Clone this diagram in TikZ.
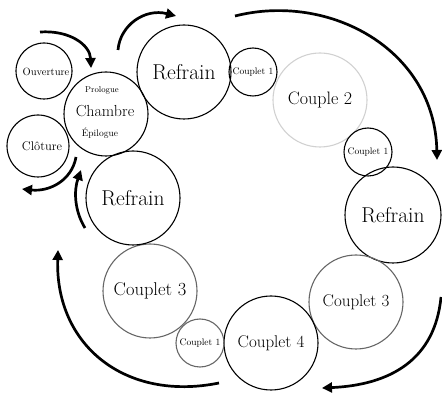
\documentclass[tikz,border=0pt]{standalone}
\usetikzlibrary{arrows.meta}
\begin{document}
\begin{tikzpicture}[x=1pt,y=-1pt,
  ring/.style={circle,draw=black,line width=1.1pt,inner sep=0pt},
  grayring/.style={ring,draw=black!60},
  paleing/.style={ring,draw=black!18},
  flow/.style={line width=2.7pt,-{Triangle[length=10pt,width=10pt]}},
  lbl/.style={inner sep=0pt}]
\useasboundingbox (0,0) rectangle (442,395);
% circles
\node[ring,minimum size=56pt] (ouv) at (44,71) {};
\node[lbl,font=\fontsize{10.5}{12}\selectfont] (ouvt) at (46,72) {Ouverture};
\node[ring,minimum size=62pt] (clo) at (38,146) {};
\node[lbl,font=\fontsize{12.5}{14}\selectfont] (clot) at (42,146) {Clôture};
\node[ring,minimum size=84pt] (cha) at (106,114) {};
\node[lbl,font=\fontsize{8.5}{10}\selectfont] (pro) at (102,90) {Prologue};
\node[lbl,font=\fontsize{16}{18}\selectfont] (chat) at (105,111) {Chambre};
\node[lbl,font=\fontsize{9.5}{11}\selectfont] (epi) at (100,133) {Épilogue};
\node[ring,minimum size=94pt,font=\fontsize{21.5}{24}\selectfont] (r1) at (184,72) {Refrain};
\node[ring,minimum size=48pt,font=\fontsize{9.5}{11}\selectfont] (c1a) at (253,72) {Couplet 1};
\node[paleing,minimum size=94pt,font=\fontsize{18}{20}\selectfont] (c2) at (320,100) {Couple 2};
\node[ring,minimum size=48pt,font=\fontsize{9.5}{11}\selectfont] (c1b) at (368,152) {Couplet 1};
\node[ring,minimum size=96pt,font=\fontsize{21.5}{24}\selectfont] (r2) at (393,215) {Refrain};
\node[grayring,minimum size=94pt,font=\fontsize{17}{20}\selectfont] (c3r) at (356,302) {Couplet 3};
\node[ring,minimum size=94pt,font=\fontsize{17}{20}\selectfont] (c4) at (271,343) {Couplet 4};
\node[grayring,minimum size=48pt,font=\fontsize{9.5}{11}\selectfont] (c1c) at (200,343) {Couplet 1};
\node[grayring,minimum size=94pt,font=\fontsize{18.5}{22}\selectfont] (c3l) at (150,291) {Couplet 3};
\node[ring,minimum size=94pt,font=\fontsize{21.5}{24}\selectfont] (r3) at (133,198) {Refrain};
% arrow end points
\coordinate (a1s) at (40,32);   \coordinate (a1e) at (91,68);
\coordinate (a2s) at (118,50);  \coordinate (a2e) at (176,16);
\coordinate (a3s) at (235,16);  \coordinate (a3e) at (437,160);
\coordinate (a4s) at (441,297); \coordinate (a4e) at (322,388);
\coordinate (a5s) at (219,383); \coordinate (a5e) at (58,250);
\coordinate (a6s) at (85,228);  \coordinate (a6e) at (81,170);
\coordinate (a7s) at (76,157);  \coordinate (a7e) at (22,189);
\draw[flow] (a1s) .. controls (70,30) and (90,45) .. (a1e);
\draw[flow] (a2s) .. controls (120,25) and (145,8) .. (a2e);
\draw[flow] (a3s) .. controls (330,-8) and (435,50) .. (a3e);
\draw[flow] (a4s) .. controls (435,360) and (390,385) .. (a4e);
\draw[flow] (a5s) .. controls (125,402) and (55,345) .. (a5e);
\draw[flow] (a6s) .. controls (74,210) and (74,190) .. (a6e);
\draw[flow] (a7s) .. controls (72,180) and (50,192) .. (a7e);
\end{tikzpicture}
\end{document}
